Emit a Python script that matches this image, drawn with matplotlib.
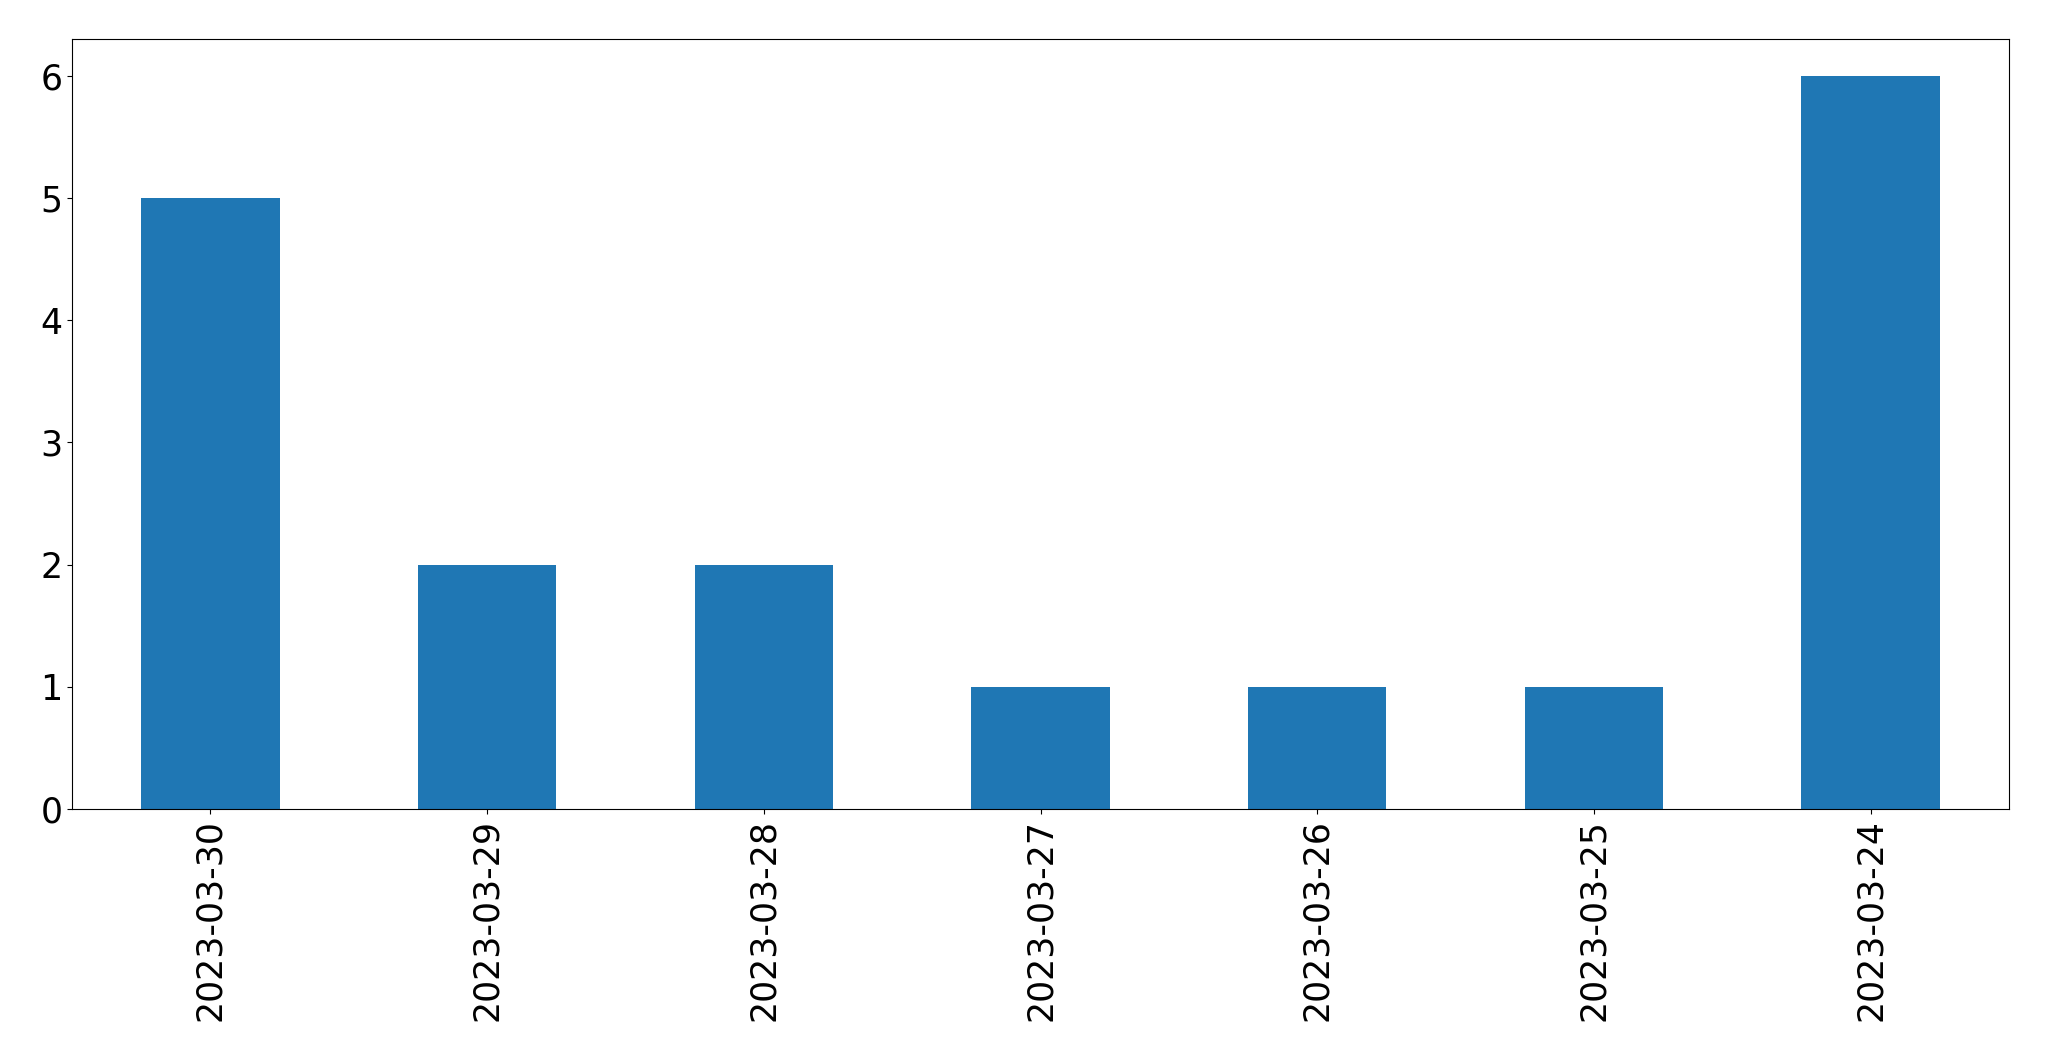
import pandas as pd
import matplotlib
matplotlib.use("Agg")
import matplotlib.pyplot as plt

# counts per day, newest first
dates = ["2023-03-30", "2023-03-29", "2023-03-28", "2023-03-27",
         "2023-03-26", "2023-03-25", "2023-03-24"]
counts = [5, 2, 2, 1, 1, 1, 6]

s = pd.Series(counts, index=dates)

fig = plt.figure(figsize=(20.49, 10.61), dpi=100)
ax = fig.add_axes([72 / 2049, 1 - 809 / 1061, (2009 - 72) / 2049, (809 - 39) / 1061])
s.plot(kind="bar", ax=ax, color="#1f77b4")
ax.tick_params(axis="both", labelsize=25)

fig.savefig("out.png", dpi=100)
